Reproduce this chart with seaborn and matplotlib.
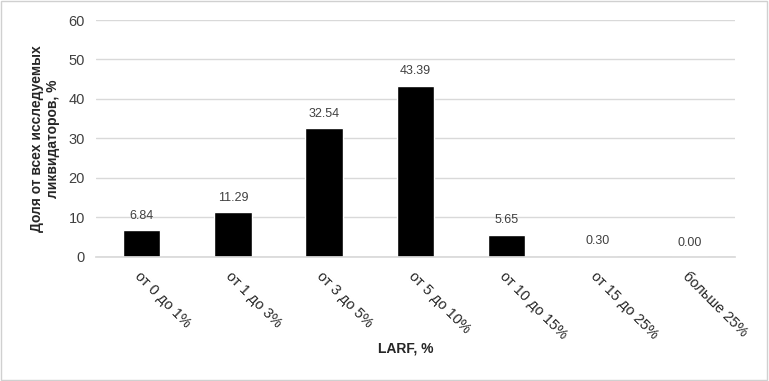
import matplotlib
matplotlib.use('Agg')
import matplotlib.pyplot as plt
import seaborn as sns
import pandas as pd

categories = ['от 0 до 1%', 'от 1 до 3%', 'от 3 до 5%', 'от 5 до 10%',
              'от 10 до 15%', 'от 15 до 25%', 'больше 25%']
shares = [6.84, 11.29, 32.54, 43.39, 5.65, 0.30, 0.00]

sns.set_theme(style="white")
plt.rcParams['font.family'] = ['Liberation Sans', 'DejaVu Sans']

df = pd.DataFrame({'cat': categories, 'val': shares})

fig = plt.figure(figsize=(7.69, 3.81), dpi=100)
ax = fig.add_axes([0.1248, 0.3255, 0.831, 0.622])

sns.barplot(data=df, x='cat', y='val', color='black', width=0.41,
            saturation=1, ax=ax)

for i, v in enumerate(shares):
    ax.annotate(f"{v:.2f}", (i, v), xytext=(0, 6), textcoords='offset points',
                ha='center', va='bottom', fontsize=9, color='#404040')

ax.set_ylim(0, 60)
ax.set_yticks(range(0, 61, 10))
ax.yaxis.grid(True, color='#d9d9d9', linewidth=1)
ax.set_axisbelow(True)
for s in ['top', 'right', 'left']:
    ax.spines[s].set_visible(False)
ax.spines['bottom'].set_color('#d9d9d9')
ax.tick_params(axis='y', length=0, labelsize=10.5, labelcolor='#404040', pad=8)
ax.tick_params(axis='x', length=0, labelsize=10.5, labelcolor='#262626', pad=9)
ax.set_xticks(range(len(categories)))
ax.set_xticklabels(categories, rotation=-45, ha='left', rotation_mode='anchor')
for lbl in ax.get_xticklabels():
    lbl.set_x(lbl.get_position()[0])

ax.set_xlabel('LARF, %', fontsize=10, fontweight='bold', color='#262626')
ax.set_ylabel('Доля от всех исследуемых\nликвидаторов, %', fontsize=10,
              fontweight='bold', color='#262626', labelpad=6)
ax.xaxis.set_label_coords(0.485, -0.355)

fig.patches.append(plt.Rectangle((0.001, 0.002), 0.997, 0.995, transform=fig.transFigure,
                                 fill=False, edgecolor='#d0d0d0', linewidth=1))

fig.savefig('out.png', dpi=100)
